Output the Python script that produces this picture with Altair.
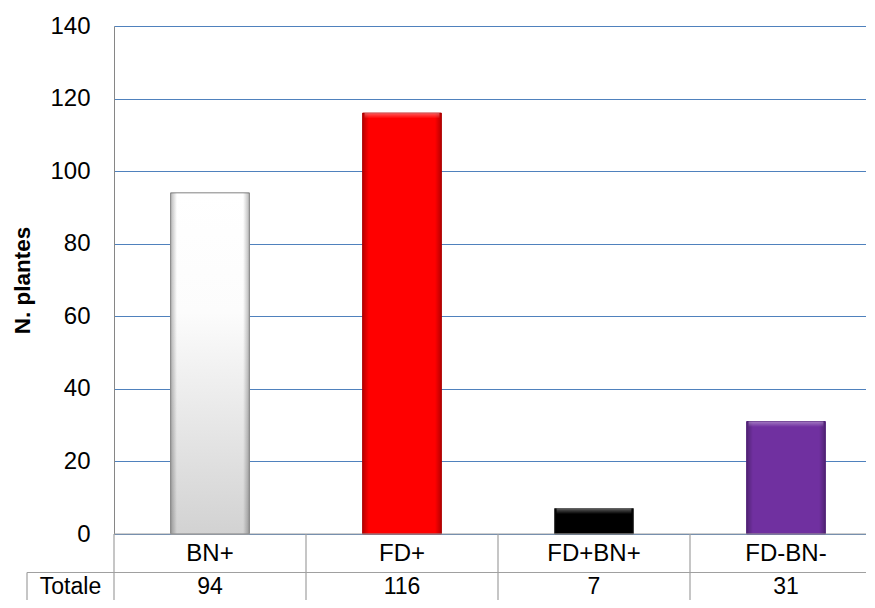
import altair as alt
import pandas as pd

# ---- data ----
categories = ["BN+", "FD+", "FD+BN+", "FD-BN-"]
values = [94, 116, 7, 31]
bar_colors = ["#F4F4F4", "#FF0000", "#000000", "#7030A0"]
stroke_colors = ["#9A9A9A", "#C00000", "#3A3A3A", "#5B2686"]
y_ticks = [0, 20, 40, 60, 80, 100, 120, 140]
y_title = "N. plantes"
row_label = "Totale"

FONT = "Liberation Sans"
GRID = "#4F81BD"
LINE = "#A0A0A0"
W, H = 752, 508

df = pd.DataFrame({"cat": categories, "value": values})
row_df = pd.DataFrame({"row": [row_label]})

xscale = alt.Scale(domain=categories, range=[0, 768], paddingInner=0, paddingOuter=0)
xaxis = alt.Axis(title=None, ticks=False, domain=False, labelAngle=0,
                 labelFont=FONT, labelFontSize=24, labelColor="#000000",
                 labelPadding=19, labelBaseline="middle")
x = alt.X("cat:N", sort=categories, scale=xscale, axis=xaxis)

yscale = alt.Scale(domain=[0, 140], nice=False)
y = alt.Y("value:Q", scale=yscale,
          axis=alt.Axis(values=y_ticks, title=y_title, ticks=False,
                        labelFont=FONT, labelFontSize=24, labelColor="#000000",
                        labelPadding=24, gridColor=GRID, gridWidth=1.2,
                        domainColor="#868686",
                        titleFont=FONT, titleFontSize=22.5, titleFontWeight="bold",
                        titleColor="#000000", titleAngle=270, titleX=-85, titleY=254,
                        titleAlign="center", titleBaseline="alphabetic"))

base = alt.Chart(df)

bars = base.mark_bar(width={"band": 0.41}, strokeWidth=1).encode(
    x=x, y=y,
    color=alt.Color("cat:N", scale=alt.Scale(domain=categories, range=bar_colors), legend=None),
    stroke=alt.Stroke("cat:N", scale=alt.Scale(domain=categories, range=stroke_colors), legend=None),
)

white_grad = alt.LinearGradient(
    gradient="linear", x1=0, x2=0, y1=0, y2=1,
    stops=[alt.GradientStop(color="#FFFFFF", offset=0),
           alt.GradientStop(color="#FCFCFC", offset=0.35),
           alt.GradientStop(color="#D2D2D2", offset=1)])
white_bar = base.transform_filter(alt.datum.cat == categories[0]).mark_bar(
    width={"band": 0.41}, fill=white_grad, stroke="#9A9A9A", strokeWidth=1
).encode(x=x, y=y)

bevel_grad = alt.LinearGradient(
    gradient="linear", x1=0, x2=1, y1=0, y2=0,
    stops=[alt.GradientStop(color="rgba(0,0,0,0.28)", offset=0),
           alt.GradientStop(color="rgba(0,0,0,0.0)", offset=0.08),
           alt.GradientStop(color="rgba(0,0,0,0.0)", offset=0.92),
           alt.GradientStop(color="rgba(0,0,0,0.28)", offset=1)])
bevel = base.mark_bar(width={"band": 0.41}, fill=bevel_grad, strokeWidth=0).encode(x=x, y=y)

top_grad = alt.LinearGradient(
    gradient="linear", x1=0, x2=0, y1=0, y2=1,
    stops=[alt.GradientStop(color="rgba(255,255,255,0.35)", offset=0),
           alt.GradientStop(color="rgba(255,255,255,0.0)", offset=1)])
top_bevel = base.transform_filter(alt.datum.cat != categories[0]).transform_calculate(
    top_lo="datum.value - 1.5"
).mark_bar(width={"band": 0.39}, fill=top_grad, strokeWidth=0).encode(
    x=x, y=alt.Y("value:Q", scale=yscale), y2="top_lo:Q")

# table lines
row_chart = alt.Chart(row_df)
zero_line = row_chart.mark_rule(color=LINE, strokeWidth=1.2).encode(
    x=alt.value(0), x2=alt.value(W), y=alt.value(H))
row_line = row_chart.mark_rule(color=LINE, strokeWidth=1.2).encode(
    x=alt.value(-87), x2=alt.value(W), y=alt.value(H + 38.5))
left_border = row_chart.mark_rule(color=LINE, strokeWidth=1.2).encode(
    x=alt.value(-87), y=alt.value(H + 38.5), y2=alt.value(H + 70))
separators = base.mark_rule(color=LINE, strokeWidth=1.2).encode(
    x=alt.X("cat:N", sort=categories, scale=xscale, axis=xaxis, bandPosition=0),
    y=alt.value(H), y2=alt.value(H + 70))
row_text = row_chart.mark_text(font=FONT, fontSize=23, color="#000000", baseline="middle").encode(
    x=alt.value(-43.5), y=alt.value(H + 53), text="row:N")
value_text = base.mark_text(font=FONT, fontSize=23, color="#000000", baseline="middle").encode(
    x=x, y=alt.value(H + 53), text="value:Q")

chart = alt.layer(
    bars, white_bar, bevel, top_bevel, zero_line, row_line, left_border, separators,
    row_text, value_text
).properties(
    width=W, height=H,
    autosize=alt.AutoSizeParams(type="none"),
    padding={"left": 106, "top": 18, "right": 0, "bottom": 66},
).configure_view(stroke=None).configure(background="#FFFFFF")

chart.save("out.html", embed_options={"renderer": "svg", "actions": False})
